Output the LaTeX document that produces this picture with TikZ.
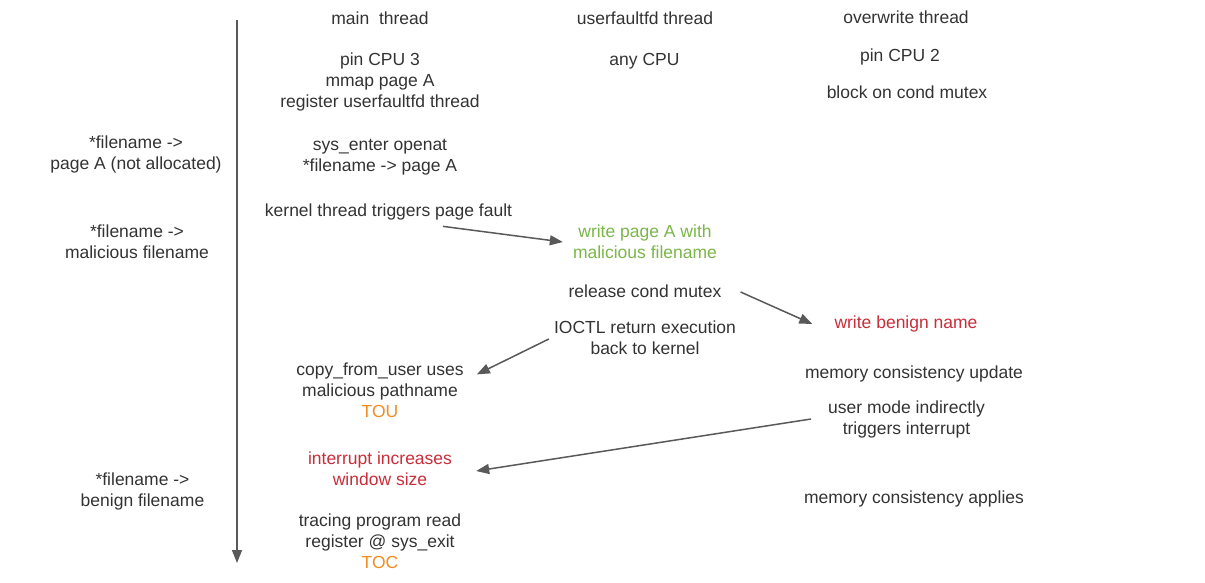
\documentclass[tikz,border=0pt]{standalone}
\usepackage{fontspec}
\setmainfont{Liberation Sans}
\usetikzlibrary{arrows.meta}
\definecolor{txtgray}{HTML}{333333}
\definecolor{lngray}{HTML}{595959}
\definecolor{lgreen}{HTML}{7AB648}
\definecolor{lred}{HTML}{C92D39}
\definecolor{lorange}{HTML}{EF8D22}
\begin{document}
\begin{tikzpicture}[x=1pt,y=-1pt,line join=round,
	font=\fontsize{17.5}{21}\selectfont,
	every node/.style={inner sep=2pt,align=center,text=txtgray},
	arr/.style={draw=lngray,line width=1.5pt,-{Triangle[length=13pt,width=10pt]}},
	good/.style={text=lgreen},
	bad/.style={text=lred}]
	\useasboundingbox (0,0) rectangle (1205,582);
	% headers
	\node (main) at (380,18) {main\ \ thread};
	\node (ufd) at (645,18) {userfaultfd thread};
	\node (ovw) at (906,17) {overwrite thread};
	% main thread
	\node (pin3) at (380,81.5) {pin CPU 3\\mmap page A\\register userfaultfd thread};
	\node (sys) at (380,157.5) {sys\_enter openat\\*filename -> page A};
	\node (fault) at (388.5,211.5) {kernel thread triggers page fault};
	\node (copy) at (380,390) {copy\_from\_user uses\\malicious pathname\\\textcolor{lorange}{TOU}};
	\node[bad] (intr) at (380,468.5) {interrupt increases\\window size};
	\node (trace) at (380,541) {tracing program read\\register @ sys\_exit\\\textcolor{lorange}{TOC}};
	% userfaultfd thread
	\node (anycpu) at (644.5,61) {any CPU};
	\node[good] (uwrite) at (645,242) {write page A with\\malicious filename};
	\node (release) at (645,291) {release cond mutex};
	\node (ioctl) at (645,338) {IOCTL return execution\\back to kernel};
	% overwrite thread
	\node (pin2) at (900,57) {pin CPU 2};
	\node (block) at (907,92.5) {block on cond mutex};
	\node[bad] (benign) at (906,323.5) {write benign name};
	\node (mcu) at (914,374) {memory consistency update};
	\node (umode) at (906.5,419) {user mode indirectly\\triggers interrupt};
	\node (mca) at (914,499) {memory consistency applies};
	% state of *filename
	\node (st1) at (136,154.5) {*filename ->\\page A (not allocated)};
	\node (st2) at (137,241.5) {*filename ->\\malicious filename};
	\node (st3) at (142.5,491) {*filename ->\\benign filename};
	% time axis
	\coordinate (ttop) at (237,20);
	\coordinate (tbot) at (237,563);
	\draw[arr] (ttop) -- (tbot);
	% hand-offs
	\draw[arr] ([xshift=54.5pt,yshift=-4.5pt]fault.south) -- ([xshift=-8pt]uwrite.west);
	\draw[arr] ([xshift=17pt,yshift=-1pt]release.east) -- ([xshift=-20pt,yshift=-0.5pt]benign.west);
	\draw[arr] ([xshift=-3pt,yshift=-1pt]ioctl.west) -- ([xshift=11pt,yshift=-14pt]copy.north east);
	\draw[arr] ([xshift=-15pt,yshift=0pt]umode.west) -- ([xshift=22pt,yshift=-2.5pt]intr.east);
\end{tikzpicture}
\end{document}
